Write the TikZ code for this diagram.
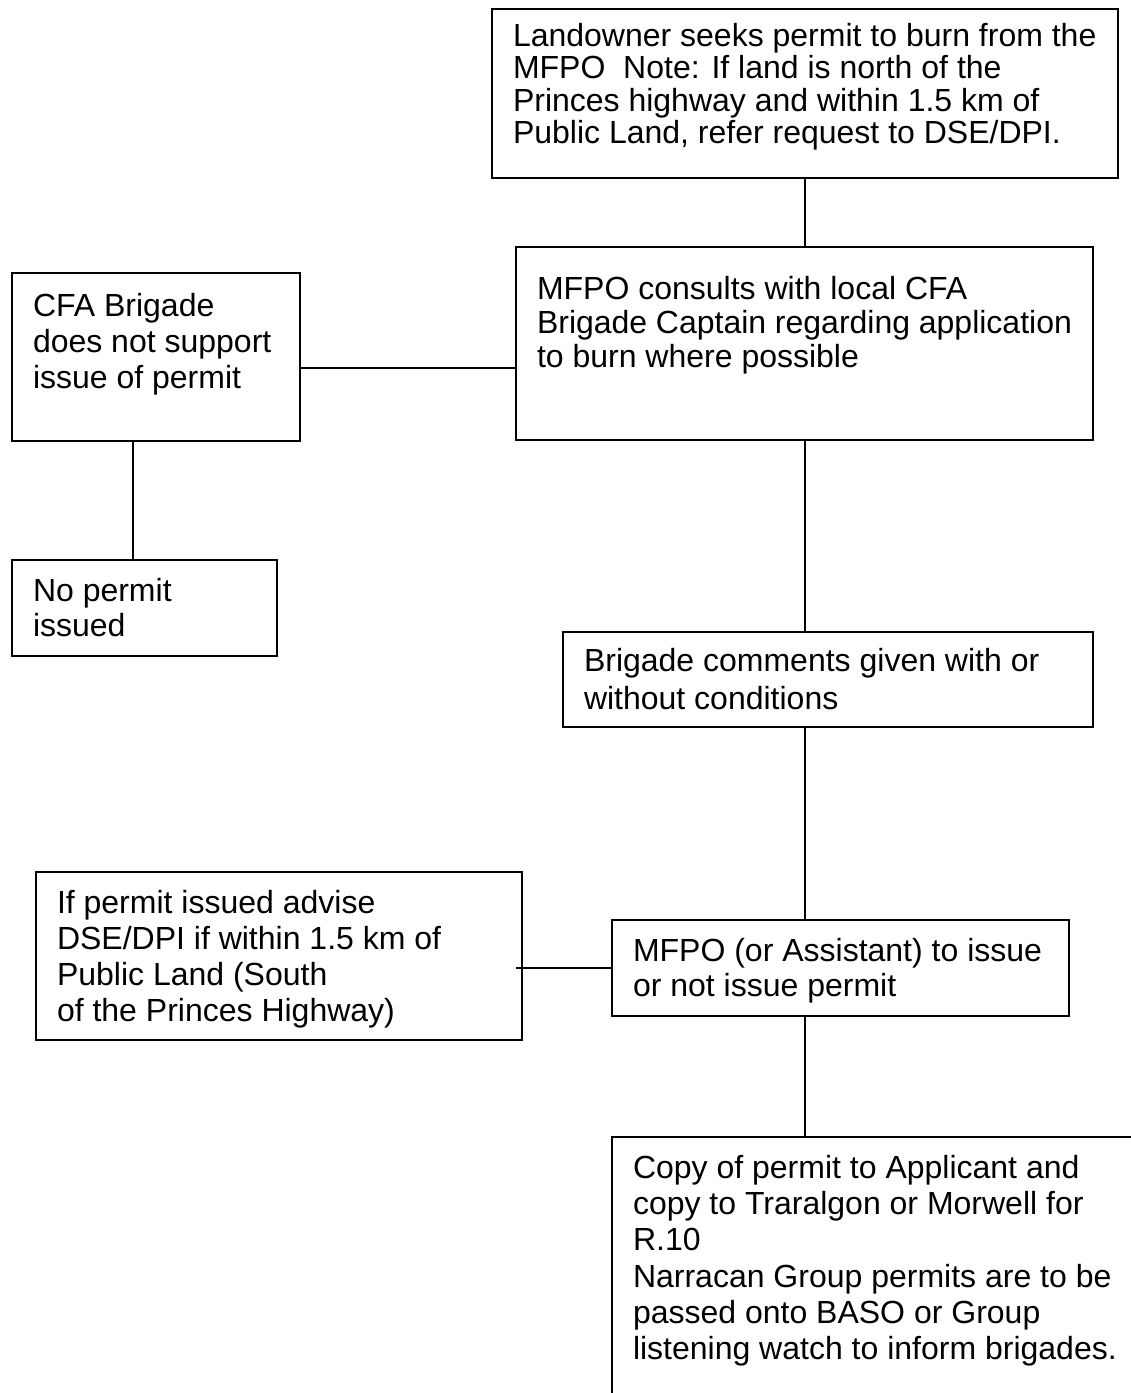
\documentclass[tikz,border=0pt]{standalone}
\usepackage{fontspec}
\setmainfont{Liberation Sans}
\usepackage{tikz}

% box text: width, height, top gap, line skip, lines
\newcommand{\flowtext}[5]{\parbox[c][#2][t]{#1}{\fontsize{32pt}{#4}\selectfont\raggedright\vspace*{#3}\rule{0pt}{24pt}#5}}

\begin{document}
\begin{tikzpicture}[x=1pt,y=-1pt,
  flowbox/.style = {draw, line width=1.5pt, anchor=north west, inner xsep=21pt, inner ysep=0pt, outer sep=0pt},
  link/.style = {line width=1.3pt}]
\useasboundingbox (0,0) rectangle (1131,1393);
\clip (0,0) rectangle (1131,1393);
\node[flowbox] (landowner) at (492,9) {\flowtext{584pt}{169pt}{13.3pt}{32.5pt}{Landowner seeks permit to burn from the\\ MFPO\ \ Note: If land is north of the\\ Princes highway and within 1.5 km of\\ Public Land, refer request to DSE/DPI.}};
\node[flowbox] (consult) at (516,247) {\flowtext{535pt}{193pt}{28.3pt}{34pt}{MFPO consults with local CFA\\ Brigade Captain regarding application\\ to burn where possible}};
\node[flowbox] (cfa) at (12,273) {\flowtext{246pt}{168pt}{19.3pt}{36pt}{CFA Brigade\\ does not support\\ issue of permit}};
\node[flowbox] (nopermit) at (12,560) {\flowtext{223pt}{96pt}{17.3pt}{35pt}{No permit\\ issued}};
\node[flowbox] (comments) at (563,632) {\flowtext{488pt}{95pt}{15.3pt}{38pt}{Brigade comments given with or\\ without conditions}};
\node[flowbox] (advise) at (36,872) {\flowtext{444pt}{168pt}{17.3pt}{36pt}{If permit issued advise\\ DSE/DPI if within 1.5 km of\\ Public Land (South\\ of the Princes Highway)}};
\node[flowbox] (issue) at (612,920) {\flowtext{415pt}{96pt}{17.3pt}{35pt}{MFPO (or Assistant) to issue\\ or not issue permit}};
\node[flowbox] (copy) at (612,1137) {\flowtext{516pt}{300pt}{17.3pt}{36.3pt}{Copy of permit to Applicant and\\ copy to Traralgon or Morwell for\\ R.10\\ Narracan Group permits are to be\\ passed onto BASO or Group\\ listening watch to inform brigades.}};
% connectors
\coordinate (spine) at (805,0);
\coordinate (cfalink) at (0,368);
\coordinate (nplink) at (133,0);
\coordinate (advend) at (516,0);
\draw[link] (landowner.south -| spine) -- (consult.north -| spine);
\draw[link] (consult.south -| spine) -- (comments.north -| spine);
\draw[link] (comments.south -| spine) -- (issue.north -| spine);
\draw[link] (issue.south -| spine) -- (copy.north -| spine);
\draw[link] (cfa.east |- cfalink) -- (consult.west |- cfalink);
\draw[link] (cfa.south -| nplink) -- (nopermit.north -| nplink);
\draw[link] (issue.west) -- (issue.west -| advend);
\end{tikzpicture}
\end{document}
